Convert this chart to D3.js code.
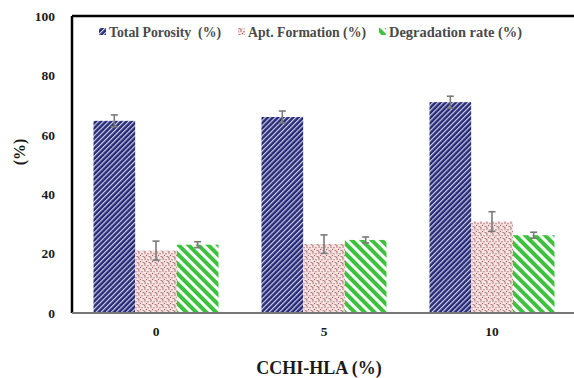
<!DOCTYPE html>
<html>
<head>
<meta charset="utf-8">
<script src="https://cdn.jsdelivr.net/npm/d3@7"></script>
<style>
  body { margin: 0; background: #fff; }
  text { font-family: "Liberation Serif", "Times New Roman", serif; font-weight: bold; }
</style>
</head>
<body>
<svg id="chart" width="574" height="378"></svg>
<script>
// chart data
const groups = ["0", "5", "10"];
const seriesNames = ["Total Porosity  (%)", "Apt. Formation (%)", "Degradation rate (%)"];
const porosity = [64.7, 66.0, 71.0];
const aptFormation = [21.0, 23.2, 30.8];
const degradation = [23.0, 24.6, 26.2];
const porosityErr = [2.0, 2.0, 2.0];
const aptErr = [3.2, 3.1, 3.3];
const degradationErr = [1.0, 1.0, 1.0];
const yTicks = [0, 20, 40, 60, 80, 100];

const margin = {left: 72, top: 16, bottom: 313, right: 576};

var svg = d3.select("#chart");
var defs = svg.append("defs");

// blue fine diagonal stripes
var pBlue = defs.append("pattern")
  .attr("id", "pat-blue").attr("patternUnits", "userSpaceOnUse")
  .attr("width", 3.6).attr("height", 3.6)
  .attr("patternTransform", "rotate(45)");
pBlue.append("rect").attr("width", 3.6).attr("height", 3.6).attr("fill", "#262a78");
pBlue.append("line").attr("x1", 0.6).attr("x2", 0.6).attr("y1", 0).attr("y2", 3.6)
  .attr("stroke", "#dcdcee").attr("stroke-width", 1.1);

// pink dotted
var pPink = defs.append("pattern")
  .attr("id", "pat-pink").attr("patternUnits", "userSpaceOnUse")
  .attr("width", 6).attr("height", 6);
pPink.append("rect").attr("width", 6).attr("height", 6).attr("fill", "#f9e4e4");
[[1, 1, "#a04848"], [4, 1.8, "#8a6a6a"], [2.5, 3.5, "#b05a5a"], [5.2, 4.6, "#a04848"], [0.8, 5.3, "#8a6a6a"]].forEach(p => {
  pPink.append("circle").attr("cx", p[0]).attr("cy", p[1]).attr("r", 0.7).attr("fill", p[2]);
});

// green wide stripes
var pGreen = defs.append("pattern")
  .attr("id", "pat-green").attr("patternUnits", "userSpaceOnUse")
  .attr("width", 7).attr("height", 7)
  .attr("patternTransform", "rotate(-45)");
pGreen.append("rect").attr("width", 7).attr("height", 7).attr("fill", "#ffffff");
pGreen.append("rect").attr("width", 4).attr("height", 7).attr("fill", "#3cc23c");

const fills = ["url(#pat-blue)", "url(#pat-pink)", "url(#pat-green)"];

var yScale = d3.scaleLinear().domain([0, 100]).range([margin.bottom, margin.top]);

var xScale = d3.scaleBand()
  .domain(groups)
  .range([margin.left, margin.right])
  .paddingInner(0.256)
  .paddingOuter(0.128);

var xSub = d3.scaleBand()
  .domain(seriesNames)
  .range([0, xScale.bandwidth()]);

// build rows
const values = [porosity, aptFormation, degradation];
const errs = [porosityErr, aptErr, degradationErr];
let rows = [];
groups.forEach((g, gi) => {
  seriesNames.forEach((s, si) => {
    rows.push({group: g, series: s, si: si, value: values[si][gi], err: errs[si][gi]});
  });
});

// bars
svg.append("g")
  .selectAll("rect")
  .data(rows)
  .join("rect")
  .attr("x", d => xScale(d.group) + xSub(d.series))
  .attr("y", d => yScale(d.value))
  .attr("width", xSub.bandwidth())
  .attr("height", d => yScale(0) - yScale(d.value))
  .attr("fill", d => fills[d.si]);

// error bars
var eb = svg.append("g").attr("stroke", "#7a7a7a").attr("stroke-width", 1.6);
rows.forEach(d => {
  let cx = xScale(d.group) + xSub(d.series) + xSub.bandwidth() / 2;
  let y1 = yScale(d.value + d.err), y2 = yScale(d.value - d.err);
  eb.append("line").attr("x1", cx).attr("x2", cx).attr("y1", y1).attr("y2", y2);
  eb.append("line").attr("x1", cx - 3.5).attr("x2", cx + 3.5).attr("y1", y1).attr("y2", y1);
  eb.append("line").attr("x1", cx - 3.5).attr("x2", cx + 3.5).attr("y1", y2).attr("y2", y2);
});

// frame
svg.append("line").attr("x1", margin.left).attr("x2", 574)
  .attr("y1", margin.top).attr("y2", margin.top)
  .attr("stroke", "#000").attr("stroke-width", 2.5);
svg.append("line").attr("x1", margin.left).attr("x2", margin.left)
  .attr("y1", margin.top).attr("y2", margin.bottom)
  .attr("stroke", "#000").attr("stroke-width", 2.5);
svg.append("line").attr("x1", margin.left).attr("x2", 574)
  .attr("y1", margin.bottom).attr("y2", margin.bottom)
  .attr("stroke", "#777").attr("stroke-width", 2);

// y axis
var yAxis = svg.append("g")
  .attr("transform", `translate(${margin.left},0)`)
  .call(d3.axisLeft(yScale).tickValues(yTicks).tickSize(0).tickPadding(17));
yAxis.select(".domain").remove();
yAxis.selectAll("text")
  .attr("font-family", "Liberation Serif")
  .style("font-size", "13.5px")
  .attr("fill", "#1a1a1a");

// x axis
var xAxis = svg.append("g")
  .attr("transform", `translate(0,${margin.bottom})`)
  .call(d3.axisBottom(xScale).tickSize(0).tickPadding(13));
xAxis.select(".domain").remove();
xAxis.selectAll("text")
  .attr("font-family", "Liberation Serif")
  .style("font-size", "13.5px")
  .attr("fill", "#1a1a1a");

// axis titles
svg.append("text")
  .text("CCHI-HLA (%)")
  .attr("x", 319).attr("y", 374)
  .attr("text-anchor", "middle")
  .style("font-size", "18px")
  .attr("fill", "#1a1a1a");

svg.append("text")
  .text("(%)")
  .attr("transform", "translate(25,152) rotate(-90)")
  .attr("text-anchor", "middle")
  .style("font-size", "16px")
  .attr("fill", "#1a1a1a");

// legend
const legendX = [99, 238, 379];
const legendW = [112, 118, 133];
var legend = svg.append("g");
seriesNames.forEach((s, i) => {
  legend.append("rect")
    .attr("x", legendX[i]).attr("y", 28)
    .attr("width", 7).attr("height", 7)
    .attr("fill", fills[i]);
  legend.append("text")
    .text(s)
    .attr("x", legendX[i] + 10).attr("y", 37)
    .attr("xml:space", "preserve")
    .attr("textLength", legendW[i])
    .attr("lengthAdjust", "spacingAndGlyphs")
    .style("font-size", "14.5px")
    .attr("fill", "#4a4a4a");
});
</script>
</body>
</html>
